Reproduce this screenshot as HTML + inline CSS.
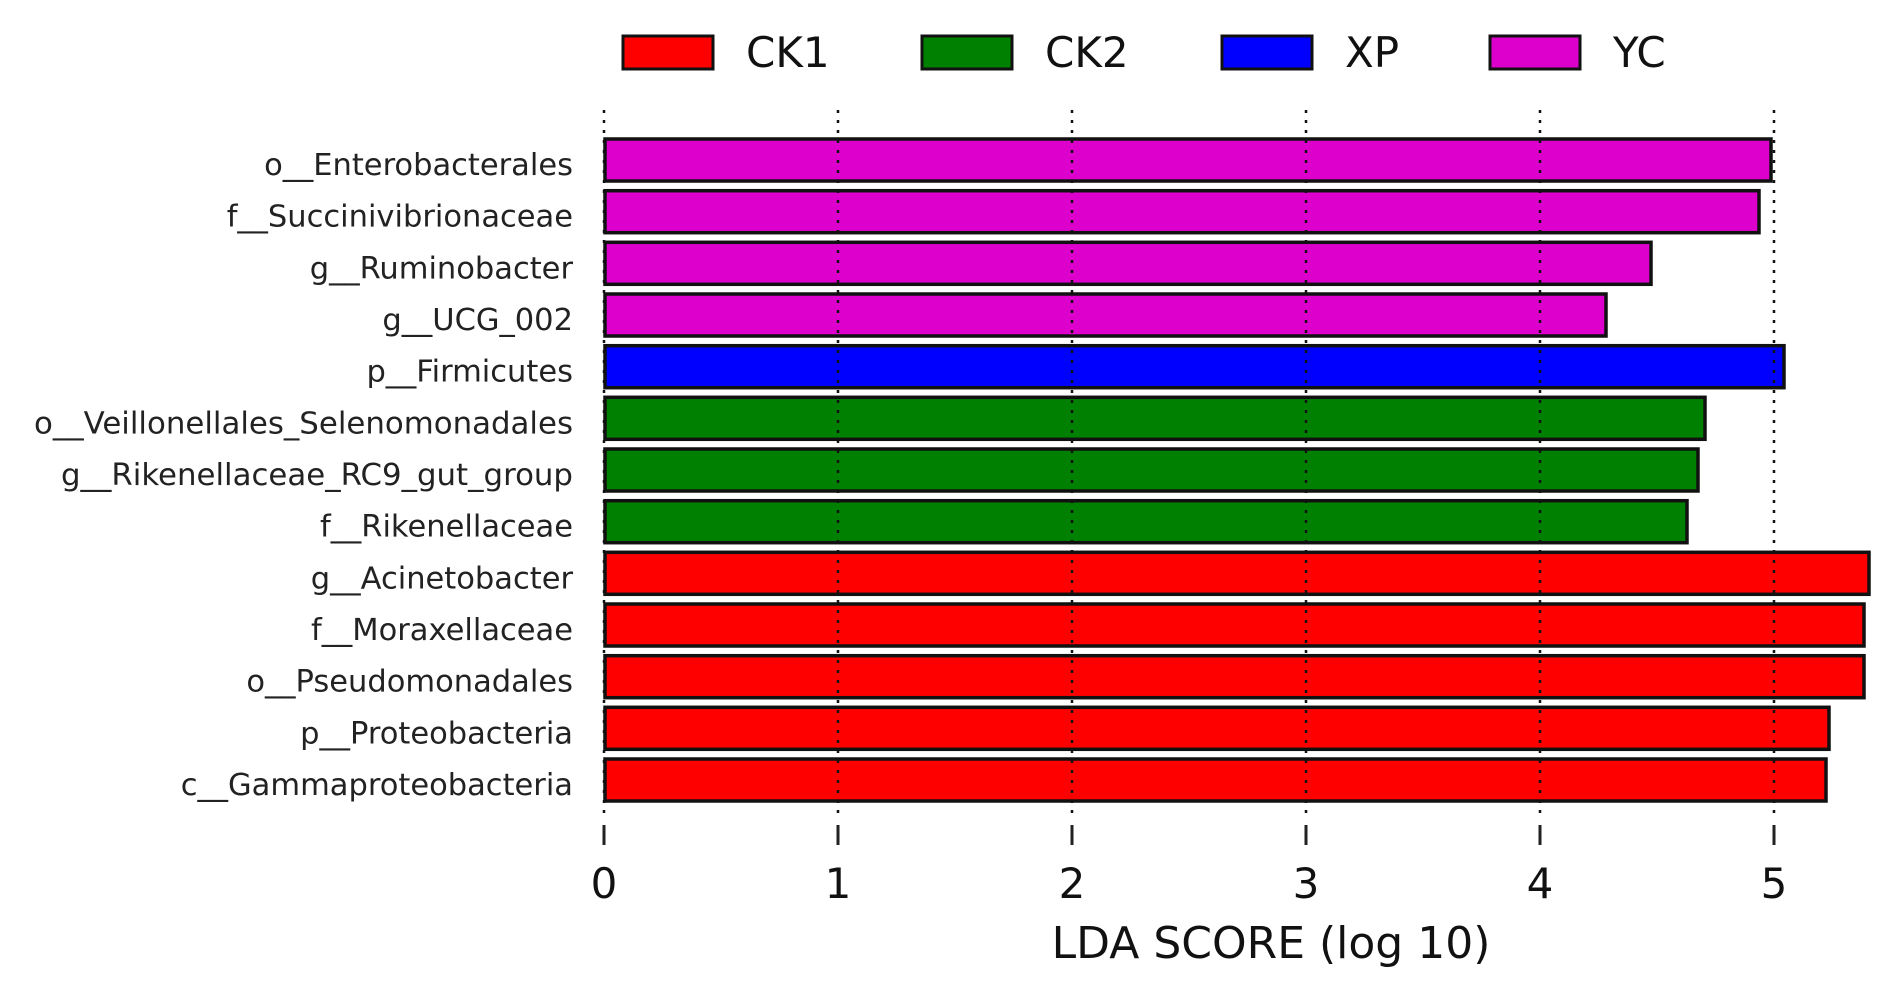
<!DOCTYPE html>
<html><head><meta charset="utf-8"><style>html,body{margin:0;padding:0;background:#fff}svg{display:block}</style></head>
<body>
<svg width="1891" height="984" viewBox="0 0 1891 984" xmlns="http://www.w3.org/2000/svg" font-family="DejaVu Sans, Liberation Sans, sans-serif">
<rect width="1891" height="984" fill="#fff"/>
<!-- legend -->
<g stroke="#111" stroke-width="3">
<rect x="623" y="36" width="90" height="33" fill="#ff0000"/>
<rect x="922" y="36" width="90" height="33" fill="#008000"/>
<rect x="1222" y="36" width="90" height="33" fill="#0000ff"/>
<rect x="1490" y="36" width="90" height="33" fill="#dd00cc"/>
</g>
<g font-size="42" fill="#111">
<text x="746" y="67">CK1</text>
<text x="1045" y="67">CK2</text>
<text x="1345" y="67">XP</text>
<text x="1613" y="67">YC</text>
</g>
<!-- bars -->
<g stroke="#111" stroke-width="3.5">
<rect x="605" y="139.0" width="1166" height="42" fill="#dd00cc"/>
<rect x="605" y="190.7" width="1154" height="42" fill="#dd00cc"/>
<rect x="605" y="242.3" width="1046" height="42" fill="#dd00cc"/>
<rect x="605" y="294.0" width="1001" height="42" fill="#dd00cc"/>
<rect x="605" y="345.7" width="1179" height="42" fill="#0000ff"/>
<rect x="605" y="397.3" width="1100" height="42" fill="#008000"/>
<rect x="605" y="449.0" width="1093" height="42" fill="#008000"/>
<rect x="605" y="500.7" width="1082" height="42" fill="#008000"/>
<rect x="605" y="552.3" width="1264" height="42" fill="#ff0000"/>
<rect x="605" y="604.0" width="1259" height="42" fill="#ff0000"/>
<rect x="605" y="655.7" width="1259" height="42" fill="#ff0000"/>
<rect x="605" y="707.3" width="1224" height="42" fill="#ff0000"/>
<rect x="605" y="759.0" width="1221" height="42" fill="#ff0000"/>
</g>
<!-- grid -->
<g stroke="#111" stroke-width="2.5" stroke-dasharray="3,7">
<line x1="604" y1="110" x2="604" y2="820"/>
<line x1="838" y1="110" x2="838" y2="820"/>
<line x1="1072" y1="110" x2="1072" y2="820"/>
<line x1="1306" y1="110" x2="1306" y2="820"/>
<line x1="1540" y1="110" x2="1540" y2="820"/>
<line x1="1774" y1="110" x2="1774" y2="820"/>
</g>
<g stroke="#222" stroke-width="3">
<line x1="604" y1="825" x2="604" y2="845"/>
<line x1="838" y1="825" x2="838" y2="845"/>
<line x1="1072" y1="825" x2="1072" y2="845"/>
<line x1="1306" y1="825" x2="1306" y2="845"/>
<line x1="1540" y1="825" x2="1540" y2="845"/>
<line x1="1774" y1="825" x2="1774" y2="845"/>
</g>
<g font-size="42" fill="#111" text-anchor="middle">
<text x="604" y="898">0</text>
<text x="838" y="898">1</text>
<text x="1072" y="898">2</text>
<text x="1306" y="898">3</text>
<text x="1540" y="898">4</text>
<text x="1774" y="898">5</text>
<text x="1271" y="958" font-size="44">LDA SCORE (log 10)</text>
</g>
<!-- labels -->
<g font-size="30.5" fill="#222" text-anchor="end">
<text x="573" y="175">o__Enterobacterales</text>
<text x="573" y="226.7">f__Succinivibrionaceae</text>
<text x="573" y="278.3">g__Ruminobacter</text>
<text x="573" y="330">g__UCG_002</text>
<text x="573" y="381.7">p__Firmicutes</text>
<text x="573" y="433.3" textLength="539" lengthAdjust="spacingAndGlyphs">o__Veillonellales_Selenomonadales</text>
<text x="573" y="485" textLength="512" lengthAdjust="spacingAndGlyphs">g__Rikenellaceae_RC9_gut_group</text>
<text x="573" y="536.7">f__Rikenellaceae</text>
<text x="573" y="588.3">g__Acinetobacter</text>
<text x="573" y="640">f__Moraxellaceae</text>
<text x="573" y="691.7">o__Pseudomonadales</text>
<text x="573" y="743.3">p__Proteobacteria</text>
<text x="573" y="795">c__Gammaproteobacteria</text>
</g>
</svg>
</body></html>
